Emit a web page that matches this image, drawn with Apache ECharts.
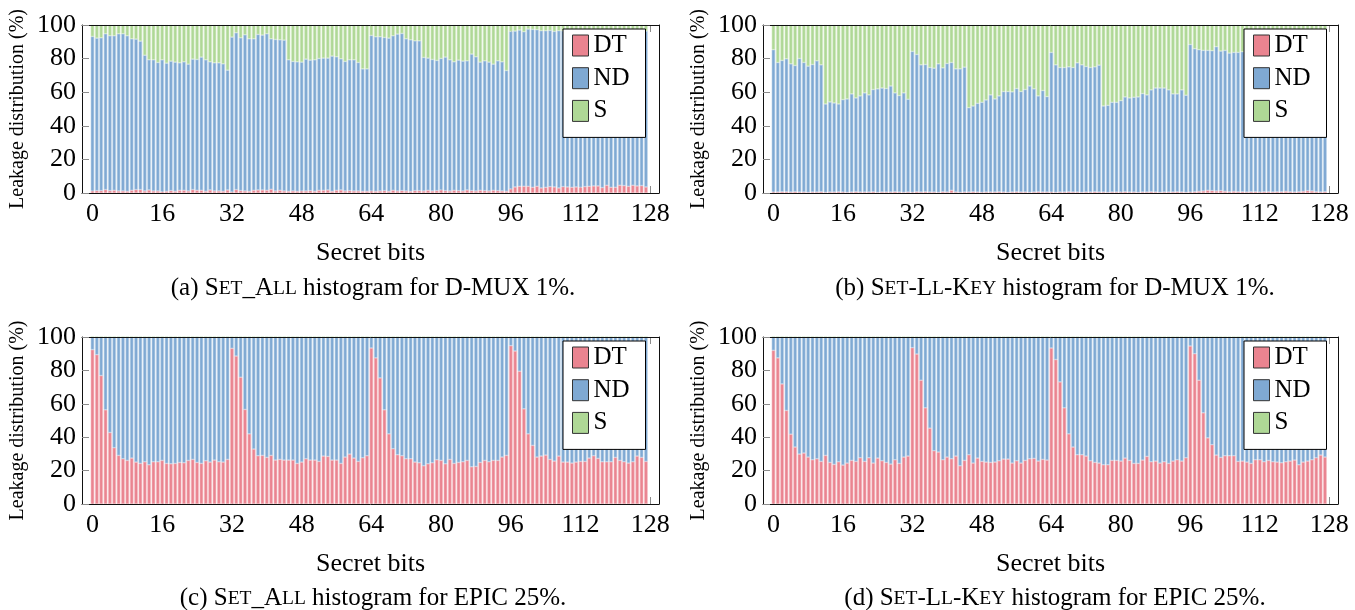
<!DOCTYPE html>
<html>
<head>
<meta charset="utf-8">
<script src="https://cdn.jsdelivr.net/npm/echarts@6/dist/echarts.min.js"></script>
<style>
html,body{margin:0;padding:0;background:#fff;}
#c{width:1355px;height:610px;}
</style>
</head>
<body>
<div id="c"></div>
<script>
// ---------- data ----------
const seriesNames = ['DT', 'ND', 'S'];
const xTickLabels = [0, 16, 32, 48, 64, 80, 96, 112, 128];
const yTickLabels = [0, 20, 40, 60, 80, 100];

// (a) SET_ALL, D-MUX 1%: DT share and DT+ND cumulative top
const aDT = [1.2,1.4,1.4,2.0,1.4,1.6,1.2,1.2,1.0,1.6,2.0,2.0,1.2,1.8,1.2,1.2,0.8,1.0,1.4,1.0,1.6,1.6,1.2,2.0,1.6,1.6,1.0,1.8,1.2,1.2,1.0,1.8,
  0.6,2.0,1.4,1.2,1.0,1.6,1.8,1.8,1.6,2.2,1.2,1.6,1.2,1.0,1.2,1.0,1.2,1.2,1.4,1.0,1.6,1.6,1.8,1.0,1.6,1.8,1.2,1.4,1.2,1.2,1.0,1.0,
  1.2,1.0,1.2,1.4,1.0,1.6,1.2,1.4,1.2,1.0,1.4,1.4,1.2,1.6,1.2,1.4,1.8,1.4,1.2,1.6,1.4,1.2,1.8,1.4,1.2,1.6,1.4,1.2,1.6,1.4,1.2,1.0,
  2.4,3.6,4.0,4.0,4.0,3.4,4.0,3.0,3.4,3.8,3.6,3.0,3.8,3.6,3.4,3.6,3.4,3.8,4.0,4.2,4.2,3.2,4.6,3.4,3.4,4.6,4.4,4.0,4.6,4.2,4.4,3.6];
const aTop = [93.2,92.2,92.4,94.8,93.6,93.6,94.8,94.8,93.6,91.8,91.6,90.4,
  82.0,79.3,79.3,77.7,79.3,77.3,78.5,77.9,77.5,78.1,76.7,79.7,79.5,80.9,79.3,78.1,77.5,77.5,76.9,73.1,
  92.8,95.4,92.4,94.2,91.8,91.8,94.4,94.0,94.8,91.8,91.4,91.2,91.0,
  79.3,78.3,78.1,77.9,79.7,79.1,79.3,80.1,80.3,80.3,81.5,81.1,79.9,78.3,79.3,79.3,77.7,73.9,73.9,
  93.8,93.0,93.0,92.6,92.2,93.6,94.6,95.0,91.8,91.2,90.6,90.6,
  80.7,80.3,79.5,78.9,80.1,80.9,79.3,78.1,79.1,78.5,78.7,82.7,81.1,77.9,78.7,77.9,76.7,78.7,78.1,72.9,
  96.2,96.4,97.0,96.0,97.6,97.4,97.2,96.6,96.6,96.8,96.2,96.6,96.5,96.8,96.4,96.6,96.8,96.2,96.6,96.8,
  97.0,96.4,96.6,96.8,96.2,96.6,96.8,96.4,96.6,97.0,96.8,96.4];

// (b) SET-LL-KEY, D-MUX 1%
const bDT = [0.6,0.6,0.8,0.8,0.6,0.8,0.6,0.6,0.4,0.6,0.6,0.8,0.4,0.6,0.6,0.8,0.6,0.4,0.6,0.8,0.6,0.6,0.6,0.8,0.4,0.6,0.6,0.6,0.8,0.6,0.4,0.6,
  0.4,0.8,0.6,0.8,0.6,0.6,0.4,0.8,0.6,1.6,0.6,0.4,0.6,0.6,0.8,0.6,0.4,0.6,0.6,0.6,0.8,0.6,0.4,0.6,0.8,0.6,0.6,0.4,0.6,0.8,0.6,0.6,
  0.6,0.4,0.6,0.6,0.8,0.6,0.6,0.4,0.6,0.6,0.8,0.6,0.6,0.4,0.6,0.6,0.6,0.8,0.6,0.6,0.4,0.6,0.6,0.8,0.6,0.4,0.6,0.6,0.6,0.8,0.6,0.4,
  0.6,0.8,1.0,1.2,1.6,1.4,1.2,1.4,1.0,0.8,1.0,0.8,0.8,0.6,0.8,0.8,0.6,0.8,0.8,0.6,0.8,0.8,1.0,0.8,0.6,0.8,1.0,1.4,1.2,0.8,0.6,0.8];
const bTop = [85.3,77.7,78.9,79.9,76.9,75.9,80.1,77.7,75.5,76.5,78.7,76.3,
  53.0,54.2,53.6,53.0,55.6,56.0,59.0,56.6,57.8,59.6,58.4,61.6,62.0,62.5,62.2,63.7,59.6,58.0,59.6,55.8,
  84.3,82.5,76.3,76.5,74.7,74.3,76.9,74.5,77.1,77.7,73.9,73.9,74.9,
  50.8,51.8,53.4,54.0,55.4,58.4,56.0,57.8,60.4,60.4,60.2,62.2,60.4,61.6,63.7,62.0,57.8,61.0,57.4,
  83.7,76.3,74.7,74.7,75.1,74.7,77.5,76.3,75.3,74.7,75.1,76.1,
  51.8,52.2,54.0,54.0,55.0,57.2,56.6,57.0,57.2,59.2,58.4,61.4,62.5,62.5,62.5,61.4,59.0,59.0,61.4,58.2,
  88.4,85.9,85.3,84.9,84.9,84.7,87.1,84.5,84.9,83.3,83.7,83.7,84.1,84.5,84.0,84.6,84.2,84.8,84.3,84.6,
  84.1,84.7,84.4,84.0,84.6,84.3,84.8,84.2,84.5,84.1,84.6,84.7];

// (c) SET_ALL, EPIC 25% (no S)
const cDT = [92.4,89.4,76.9,56.4,42.8,33.7,29.1,27.1,26.1,27.5,25.1,24.3,25.3,23.5,25.3,25.3,26.1,24.3,24.1,24.3,24.9,24.7,26.1,26.7,24.9,24.3,25.9,25.1,26.3,25.3,25.1,26.7,
  93.2,88.6,75.9,56.6,42.0,32.9,28.9,29.1,27.9,29.1,26.3,26.7,26.3,26.3,26.3,24.3,25.1,27.1,26.3,26.3,25.5,28.7,28.5,26.3,26.3,24.3,28.1,29.9,27.5,25.5,27.7,28.9,
  93.4,87.5,75.5,56.4,42.0,33.1,29.5,28.9,27.1,27.1,25.1,24.7,22.9,24.1,24.7,26.5,26.1,24.1,26.7,24.3,24.9,25.3,26.1,22.3,22.5,24.9,26.1,25.3,26.1,26.1,28.1,29.1,
  94.8,91.6,79.5,57.0,42.0,35.1,28.1,28.7,29.3,26.7,25.7,28.7,25.1,25.1,24.5,25.1,25.5,25.5,27.5,28.9,27.3,25.3,25.3,25.3,27.9,26.1,25.3,24.5,25.3,28.7,27.9,25.5];
const cTop = cDT.map(() => 100);

// (d) SET-LL-KEY, EPIC 25% (no S)
const dDT = [92.0,87.5,71.9,56.0,41.8,34.1,29.9,30.5,28.1,26.5,27.1,25.5,29.1,24.9,23.7,25.3,23.3,24.5,26.1,25.5,27.7,25.5,27.7,24.5,27.5,25.9,24.9,23.9,26.5,24.3,28.1,28.7,
  93.6,89.8,74.1,57.6,45.4,31.9,31.1,26.5,28.1,27.1,28.7,22.9,26.1,29.5,24.5,27.5,25.5,25.1,24.9,25.1,25.9,26.9,26.9,24.5,25.9,24.5,26.1,27.1,27.3,25.7,26.7,26.3,
  93.4,86.5,73.1,57.6,42.0,34.1,29.5,29.5,28.7,25.9,24.9,24.5,23.5,23.5,26.1,26.1,25.7,27.5,26.1,24.3,24.3,26.3,28.5,25.3,25.7,24.5,25.3,24.3,25.7,26.5,25.7,27.7,
  94.6,90.0,74.1,54.6,39.6,35.5,29.3,27.9,28.9,28.9,28.9,25.5,25.7,25.1,24.3,26.5,26.5,25.3,26.1,25.3,25.1,24.7,25.3,25.7,26.3,23.5,25.1,25.7,26.5,27.7,29.3,28.1];
const dTop = dDT.map(() => 100);

// ---------- styling ----------
const FONT = 'Liberation Serif';
const fill = { DT: '#EA8490', ND: '#7FA9D3', S: '#AFD896' };
const edge = { DT: '#F4BAC1', ND: '#BCD3EA', S: '#D5EBC8' };

const panels = [
  { dt: aDT, top: aTop, grid: { left: 82, top: 25, width: 577, height: 168 }, legend: { left: 563, top: 29 },
    cap: { x: 368, y: 271, text: '(a) S{sc|ET}_A{sc|LL} histogram for D-MUX 1%.' } },
  { dt: bDT, top: bTop, grid: { left: 763, top: 25, width: 575, height: 168 }, legend: { left: 1244, top: 29 },
    cap: { x: 1050, y: 271, text: '(b) S{sc|ET}-L{sc|L}-K{sc|EY} histogram for D-MUX 1%.' } },
  { dt: cDT, top: cTop, grid: { left: 82, top: 337, width: 577, height: 167 }, legend: { left: 563, top: 341 },
    cap: { x: 368, y: 581, text: '(c) S{sc|ET}_A{sc|LL} histogram for EPIC 25%.' } },
  { dt: dDT, top: dTop, grid: { left: 763, top: 337, width: 575, height: 167 }, legend: { left: 1244, top: 341 },
    cap: { x: 1050, y: 581, text: '(d) S{sc|ET}-L{sc|L}-K{sc|EY} histogram for EPIC 25%.' } }
];

const XMIN = -2.4, XMAX = 130;
const option = { backgroundColor: '#fff', animation: false, grid: [], xAxis: [], yAxis: [], series: [], legend: [], title: [] };
const frameLine = { show: true, onZero: false, lineStyle: { color: '#111', width: 1 } };
const noLine = { show: false, onZero: false };

panels.forEach((p, k) => {
  option.grid.push(Object.assign({ containLabel: false }, p.grid));
  const xb = { type: 'value', gridIndex: k, min: XMIN, max: XMAX, splitLine: { show: false } };
  // bottom axis: labels + ticks (under bars)
  option.xAxis.push(Object.assign({}, xb, {
    position: 'bottom', z: 0,
    axisLine: noLine,
    axisTick: { show: true, inside: true, length: 7, customValues: xTickLabels, lineStyle: { color: '#8c8c8c', width: 1 } },
    axisLabel: { show: true, customValues: xTickLabels, margin: 8, fontFamily: FONT, fontSize: 26, color: '#000' },
    name: 'Secret bits', nameLocation: 'middle', nameGap: 47,
    nameTextStyle: { fontFamily: FONT, fontSize: 26, color: '#000' }
  }));
  // top ticks
  option.xAxis.push(Object.assign({}, xb, {
    position: 'top', z: 0,
    axisLine: noLine,
    axisTick: { show: true, inside: true, length: 7, customValues: xTickLabels, lineStyle: { color: '#8c8c8c', width: 1 } },
    axisLabel: { show: false }
  }));
  // frame lines (above bars)
  option.xAxis.push(Object.assign({}, xb, { position: 'bottom', z: 10, axisLine: frameLine, axisTick: { show: false }, axisLabel: { show: false } }));
  option.xAxis.push(Object.assign({}, xb, { position: 'top', z: 10, axisLine: frameLine, axisTick: { show: false }, axisLabel: { show: false } }));

  option.yAxis.push({
    type: 'value', gridIndex: k, min: 0, max: 100, interval: 20, position: 'left', z: 10,
    splitLine: { show: false },
    axisLine: frameLine,
    axisTick: { show: true, inside: true, length: 7, lineStyle: { color: '#8c8c8c', width: 1 } },
    axisLabel: { margin: 6, fontFamily: FONT, fontSize: 26, color: '#000',
      formatter: v => (yTickLabels.indexOf(v) >= 0 ? String(v) : '') },
    name: 'Leakage distribution (%)', nameLocation: 'middle', nameGap: 54,
    nameTextStyle: { fontFamily: FONT, fontSize: 20, color: '#000' }
  });
  option.yAxis.push({
    type: 'value', gridIndex: k, min: 0, max: 100, position: 'right', z: 10,
    splitLine: { show: false }, axisLine: frameLine,
    axisTick: { show: false }, axisLabel: { show: false }
  });

  const nd = p.top.map((t, i) => +(t - p.dt[i]).toFixed(2));
  const s = p.top.map(t => +(100 - t).toFixed(2));
  const vals = { DT: p.dt, ND: nd, S: s };
  seriesNames.forEach(name => {
    option.series.push({
      type: 'bar', name: name, stack: 'p' + k,
      xAxisIndex: k * 4, yAxisIndex: k * 2,
      barWidth: 3.5, z: 2,
      itemStyle: { color: fill[name], borderColor: edge[name], borderWidth: 0.6 },
      emphasis: { disabled: true },
      // value first so the stack is computed on the y dimension
      encode: { x: 1, y: 0 },
      data: vals[name].map((v, i) => [v, i])
    });
  });

  option.legend.push({
    data: seriesNames, orient: 'vertical', left: p.legend.left, top: p.legend.top,
    selectedMode: false, icon: 'rect', itemWidth: 16, itemHeight: 21, itemGap: 3.7,
    padding: [2, 12, 12, 9],
    backgroundColor: '#fff', borderColor: '#000', borderWidth: 1, borderRadius: 0,
    itemStyle: { borderColor: '#333', borderWidth: 1 },
    textStyle: { fontFamily: FONT, fontSize: 25, color: '#000', width: 40, align: 'center', lineHeight: 22, padding: [7, 0, 0, 0] },
    z: 20
  });

  option.title.push({
    text: p.cap.text, left: p.cap.x, top: p.cap.y, textAlign: 'center',
    textStyle: { fontFamily: FONT, fontSize: 25, fontWeight: 'normal', color: '#000',
      rich: { sc: { fontFamily: FONT, fontSize: 19.5, color: '#000' } } }
  });
});

const chart = echarts.init(document.getElementById('c'), null, { renderer: 'canvas' });
chart.setOption(option);
</script>
</body>
</html>
